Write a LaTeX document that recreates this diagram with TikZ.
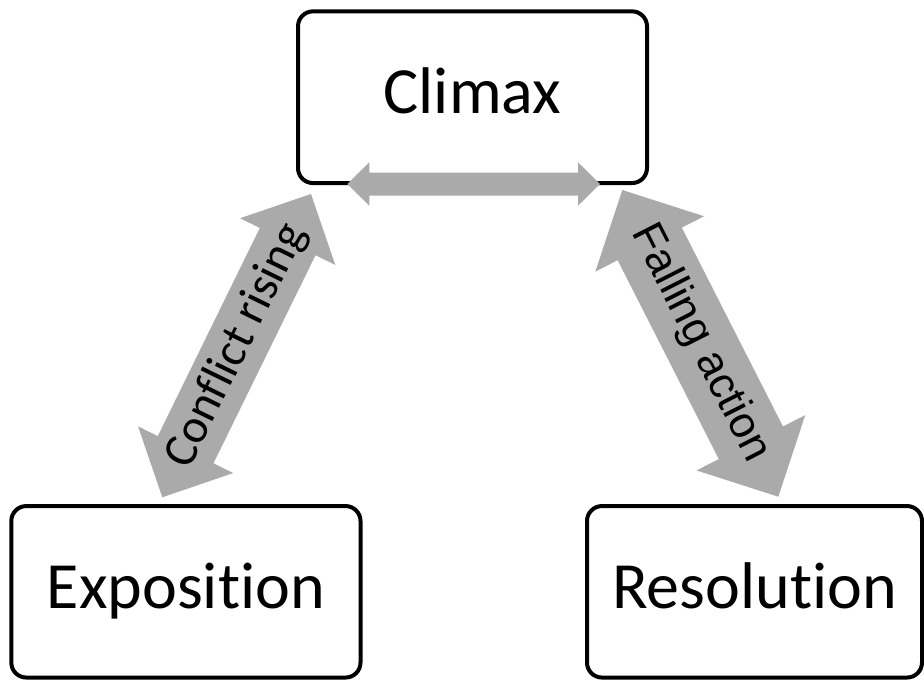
\documentclass[tikz,border=0pt]{standalone}
\usepackage{fontspec}
\setmainfont{Carlito}[Ligatures=NoCommon]
\newfontfamily\arialfont{Liberation Sans}
\usetikzlibrary{calc}
\definecolor{arrowgray}{RGB}{170,170,170}
\tikzset{
  stagebox/.style={draw=black, line width=4pt, rounded corners=15pt, fill=white,
    inner sep=0pt, font=\fontsize{66}{79}\selectfont, text height=49.5pt, text depth=16.5pt},
  arrowfill/.style={fill=arrowgray},
  arrowlabel/.style={midway, sloped, inner sep=0pt, text=black},
}
% #1 start, #2 end, #3 shaft half width, #4 head half width, #5 head length
\newcommand\dblarrow[5]{%
  \fill[arrowfill] (#1)
   -- ($(#1)!#5!(#2)!#4!90:(#2)$)
   -- ($(#1)!#5!(#2)!#3!90:(#2)$)
   -- ($(#2)!#5!(#1)!#3!270:(#1)$)
   -- ($(#2)!#5!(#1)!#4!270:(#1)$)
   -- (#2)
   -- ($(#2)!#5!(#1)!#4!90:(#1)$)
   -- ($(#2)!#5!(#1)!#3!90:(#1)$)
   -- ($(#1)!#5!(#2)!#3!270:(#2)$)
   -- ($(#1)!#5!(#2)!#4!270:(#2)$)
   -- cycle;}
\begin{document}
\begin{tikzpicture}[x=1pt, y=-1pt]
  \fill[white] (0,0) rectangle (924,680);
  \useasboundingbox (0,0) rectangle (924,680);

  \node[stagebox, minimum width=349pt, minimum height=171.7pt] (climax) at (472.5,97.2) {Climax};
  \node[stagebox, minimum width=349.2pt, minimum height=171.5pt] (expo) at (185.9,591.8) {Exposition};
  \node[stagebox, minimum width=335pt, minimum height=171.5pt] (reso) at (754.5,591.8) {Resolution};

  \coordinate (hA) at (347.3,184);
  \coordinate (hB) at (600,184);
  \coordinate (lA) at (162.3,497.3);
  \coordinate (lB) at (311,194);
  \coordinate (rA) at (622.3,190);
  \coordinate (rB) at (778.3,496.7);

  \dblarrow{hA}{hB}{11.5pt}{21.7pt}{22pt}
  \dblarrow{lA}{lB}{31pt}{53pt}{53pt}
  \dblarrow{rA}{rB}{36pt}{61pt}{60.5pt}

  \path (lA) -- (lB) node[arrowlabel, font=\fontsize{48}{56}\selectfont] {Conflict rising};
  \path (rA) -- (rB) node[arrowlabel, font=\arialfont\fontsize{44}{52}\selectfont] {Falling action};
\end{tikzpicture}
\end{document}
